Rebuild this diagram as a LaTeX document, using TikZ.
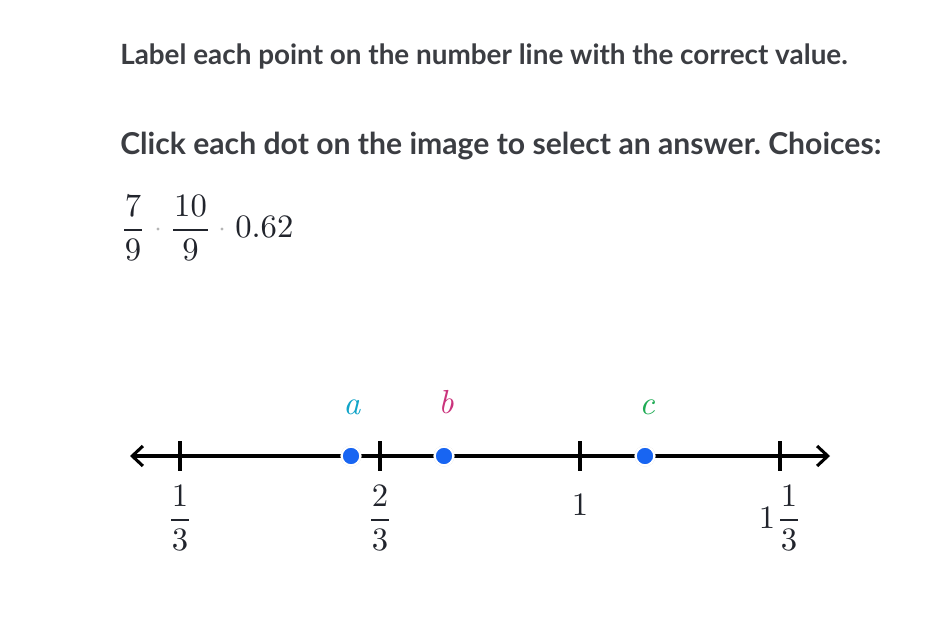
\documentclass[tikz,border=0pt]{standalone}
\usepackage{fontspec}
\newfontfamily\lato{Lato}
\newfontfamily\numfont{lmroman10-regular.otf}[ItalicFont=lmroman10-italic.otf]
\usetikzlibrary{arrows.meta}
\frenchspacing
\definecolor{txt}{HTML}{3B3D42}
\definecolor{mtxt}{HTML}{21242C}
\definecolor{dotblue}{HTML}{1865F2}
\definecolor{cola}{HTML}{11A4C8}
\definecolor{colb}{HTML}{CA337C}
\definecolor{colc}{HTML}{1FAB54}
\definecolor{sepgray}{HTML}{B5B5B5}
\tikzset{
  heading/.style={anchor=base west, text=txt, inner sep=0pt, font=\lato\bfseries\fontsize{20.9}{24}\selectfont},
  heading2/.style={anchor=base west, text=txt, inner sep=0pt, font=\lato\bfseries\fontsize{22.6}{26}\selectfont},
  numtxt/.style={inner sep=0pt, anchor=base, text=mtxt, font=\numfont\fontsize{24.5}{28}\selectfont},
  ptlbl/.style={inner sep=0pt, anchor=base, font=\numfont\itshape\fontsize{25}{28}\selectfont},
  fracbar/.style={fill=mtxt, inner sep=0pt, minimum height=1.3pt, draw=none},
  axis/.style={line width=2.3pt, {Straight Barb[length=8pt,width=15pt]}-{Straight Barb[length=8pt,width=15pt]}},
  tickmark/.style={line width=2.3pt},
  ptdot/.style={circle, fill=dotblue, draw=white, line width=1.6pt, minimum size=14pt, inner sep=0pt},
  sepdot/.style={circle, fill=sepgray, minimum size=2.5pt, inner sep=0pt},
}
\begin{document}
\begin{tikzpicture}[x=0.75pt, y=-0.75pt]
\useasboundingbox (0,0) rectangle (948,624);
\node[heading] (t1) at (120,65) {Label each point on the number line with the correct value.};
\node[heading2] (t2) at (120,155) {Click each dot on the image to select an answer. Choices:};
% choices
\node[numtxt] (c1n) at (133,216) {7};
\node[fracbar, minimum width=13.5pt] (c1b) at (133,230) {};
\node[numtxt] (c1d) at (133,260) {9};
\node[sepdot] (s1) at (158,229) {};
\node[numtxt] (c2n) at (190.5,216) {10};
\node[fracbar, minimum width=26.5pt] (c2b) at (190.5,230) {};
\node[numtxt] (c2d) at (190.5,260) {9};
\node[sepdot] (s2) at (222,229) {};
\node[numtxt, anchor=base west] (c3) at (235,237) {0.62};
% number line
\coordinate (L) at (130,456);
\coordinate (R) at (830,456);
\draw[axis] (L) -- (R);
\foreach \x/\n in {180/t1, 380/t2, 580/t3, 780/t4}{
  \coordinate (\n a) at (\x,441);
  \coordinate (\n b) at (\x,471);
  \draw[tickmark] (\n a) -- (\n b);
}
\node[numtxt] (l1n) at (180,506) {1};
\node[fracbar, minimum width=13.5pt] (l1b) at (180,520) {};
\node[numtxt] (l1d) at (180,550) {3};
\node[numtxt] (l2n) at (380,506) {2};
\node[fracbar, minimum width=13.5pt] (l2b) at (380,520) {};
\node[numtxt] (l2d) at (380,550) {3};
\node[numtxt] (l3) at (580,515) {1};
\node[numtxt] (l4w) at (767,528) {1};
\node[numtxt] (l4n) at (789,506) {1};
\node[fracbar, minimum width=13.5pt] (l4b) at (789,520) {};
\node[numtxt] (l4d) at (789,550) {3};
% points
\foreach \x/\n in {351/pa, 444/pb, 645/pc}{
  \fill[black!12] (\x,456) circle[radius=7.9pt];
  \node[ptdot] (\n) at (\x,456) {};
}
\node[ptlbl, text=cola] (la) at (352,414) {a};
\node[ptlbl, text=colb] (lb) at (446,413) {b};
\node[ptlbl, text=colc] (lc) at (647,414) {c};
\end{tikzpicture}
\end{document}
